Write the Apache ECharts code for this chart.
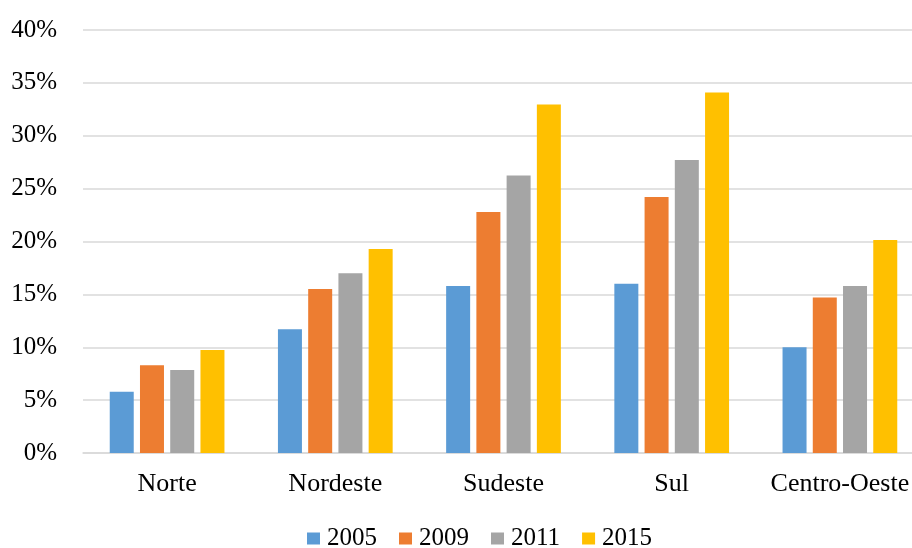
<!DOCTYPE html>
<html><head><meta charset="utf-8">
<script src="https://cdn.jsdelivr.net/npm/echarts@6/dist/echarts.min.js"></script>
<style>html,body{margin:0;padding:0;background:#fff}#c{width:912px;height:548px}</style>
</head><body><div id="c"></div>
<script>
const categories = ['Norte', 'Nordeste', 'Sudeste', 'Sul', 'Centro-Oeste'];
const years = ['2005', '2009', '2011', '2015'];
const v2005 = [5.8, 11.7, 15.8, 16.0, 10.0];
const v2009 = [8.3, 15.5, 22.8, 24.2, 14.7];
const v2011 = [7.85, 17.0, 26.25, 27.7, 15.8];
const v2015 = [9.75, 19.3, 32.95, 34.1, 20.15];
const colors = ['#5B9BD5', '#ED7D31', '#A5A5A5', '#FFC000'];
const font = '"Liberation Serif", "Times New Roman", serif';
const seriesValues = [v2005, v2009, v2011, v2015];
const chart = echarts.init(document.getElementById('c'));
chart.setOption({
  animation: false,
  color: colors,
  grid: {left: 83, width: 841, top: 30, height: 423, containLabel: false, outerBoundsMode: 'none'},
  legend: {
    data: years, top: 521, left: 302, itemWidth: 13, itemHeight: 12, itemGap: 22,
    icon: 'rect',
    textStyle: {fontFamily: font, fontSize: 25, color: '#000', padding: [0, 0, 0, 2]}
  },
  xAxis: {
    type: 'category', data: categories,
    axisLine: {lineStyle: {color: '#D9D9D9', width: 1.5}},
    axisTick: {show: false},
    axisLabel: {fontFamily: font, fontSize: 26, color: '#000', margin: 18, interval: 0}
  },
  yAxis: {
    type: 'value', min: 0, max: 40, interval: 5,
    axisLine: {show: false}, axisTick: {show: false},
    splitLine: {lineStyle: {color: '#D9D9D9', width: 1.5}},
    axisLabel: {fontFamily: font, fontSize: 25, color: '#000', formatter: '{value}%', margin: 26}
  },
  series: years.map((y, i) => ({
    name: y, type: 'bar', data: seriesValues[i], barWidth: 24, barGap: '26%'
  }))
});
</script></body></html>
